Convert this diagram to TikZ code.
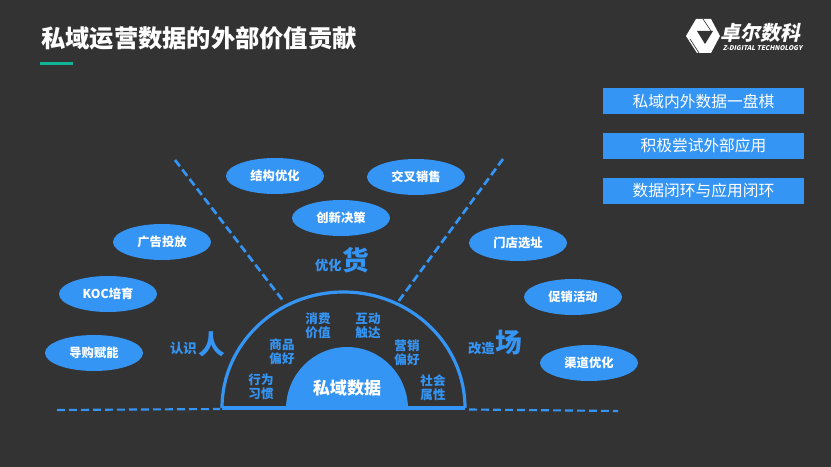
\documentclass[tikz,border=0pt]{standalone}
\usepackage{fontspec}
\setmainfont{Noto Sans CJK SC}
\usetikzlibrary{shapes.geometric}
\definecolor{bgc}{HTML}{333333}
\definecolor{blu}{HTML}{3595F5}
\definecolor{grn}{HTML}{10B597}
\tikzset{
  oval/.style={ellipse,fill=blu,minimum width=73.5pt,minimum height=27pt,inner sep=0pt,text=white,font=\fontsize{9.2}{10}\selectfont\bfseries},
  tag/.style={rectangle,fill=blu,minimum width=150.5pt,minimum height=19.5pt,inner sep=0pt,text=white,font=\fontsize{11.8}{12}\selectfont},
  inner/.style={text=blu,align=center,inner sep=0pt,font=\fontsize{9.4}{10.8}\selectfont\bfseries},
  small/.style={text=blu,inner sep=0pt,font=\fontsize{10}{11}\selectfont\bfseries},
  big/.style={text=blu,inner sep=0pt,font=\fontsize{20}{20}\selectfont\bfseries},
  ray/.style={draw=blu,line width=2pt,dash pattern=on 6pt off 3pt},
  base/.style={draw=blu,line width=1.6pt,dash pattern=on 6pt off 3pt},
}
\begin{document}
\begin{tikzpicture}[x=0.75pt,y=-0.75pt]
\useasboundingbox (0,0) rectangle (831,467);
\fill[bgc] (0,0) rectangle (831,467);
% title
\node[anchor=west,inner sep=0pt,text=white,font=\fontsize{18.2}{20}\selectfont\bfseries] (title) at (41,38) {私域运营数据的外部价值贡献};
\fill[grn] (40,62) rectangle (73,65);
% logo
\fill[white] (696,19) -- (711,19) -- (720,36) -- (711,53) -- (697,53) -- (686,36) -- cycle;
\fill[bgc] (697,31) -- (713,31) -- (705,44) -- cycle;
\draw[bgc,line width=0.5pt] (690,39) -- (699,53);
\draw[bgc,line width=0.5pt] (703,19) -- (711,31);
\node[anchor=west,inner sep=0pt,text=white,font=\fontsize{15}{15}\selectfont\bfseries,xslant=0.2] (logotext) at (722,33) {卓尔数科};
\node[anchor=west,inner sep=0pt,text=white,font=\fontsize{4.9}{5}\selectfont\bfseries,xslant=0.2] (logosub) at (723,48) {Z-DIGITAL TECHNOLOGY};
% tags
\node[tag] (t1) at (703.5,101) {私域内外数据一盘棋};
\node[tag] (t2) at (703.5,146) {积极尝试外部应用};
\node[tag] (t3) at (703.5,191) {数据闭环与应用闭环};
% lines
\coordinate (raylA) at (175,160); \coordinate (raylB) at (284,302);
\coordinate (rayrA) at (503,159); \coordinate (rayrB) at (398,302);
\draw[ray] (raylA) -- (raylB);
\draw[ray] (rayrA) -- (rayrB);
\coordinate (baseL) at (57,410); \coordinate (archL) at (222,408);
\coordinate (archR) at (465,408); \coordinate (baseR) at (618,411);
\coordinate (baseLend) at (220,409); \coordinate (baseRstart) at (469,409.5);
\draw[base] (baseL) -- (baseLend);
\draw[base] (baseRstart) -- (baseR);
% arch
\draw[blu,line width=2.4pt] (archL) arc[start angle=180,end angle=0,x radius=121.5,y radius=-116];
\draw[blu,line width=3pt] (archL) -- (archR);
\fill[blu] (286,409) arc[start angle=180,end angle=0,x radius=61,y radius=-62] -- cycle;
\node[inner sep=0pt,text=white,font=\fontsize{12.8}{13}\selectfont\bfseries] (core) at (347,388.5) {私域数据};
% inner labels
\node[inner] (i1) at (261,387) {行为\\习惯};
\node[inner] (i2) at (282,351.5) {商品\\偏好};
\node[inner] (i3) at (318,326) {消费\\价值};
\node[inner] (i4) at (368,326) {互动\\触达};
\node[inner] (i5) at (407,353) {营销\\偏好};
\node[inner] (i6) at (433,387.5) {社会\\属性};
% side labels
\node[small,anchor=east] (l1) at (197,348) {认识};
\node[big] (l1b) at (212,344) {人};
\node[small,anchor=east] (l2) at (342,265) {优化};
\node[big] (l2b) at (356,260) {货};
\node[small,anchor=east] (l3) at (495,348) {改造};
\node[big] (l3b) at (509,343) {场};
% ovals
\node[oval] (a) at (94,353) {导购赋能};
\node[oval] (b) at (108,294) {KOC培育};
\node[oval] (c) at (162,242) {广告投放};
\node[oval] (d) at (275,176) {结构优化};
\node[oval] (e) at (341,218) {创新决策};
\node[oval] (f) at (416,177) {交叉销售};
\node[oval] (g) at (518,243) {门店选址};
\node[oval] (h) at (573,297) {促销活动};
\node[oval] (i) at (589,363) {渠道优化};
\end{tikzpicture}
\end{document}
